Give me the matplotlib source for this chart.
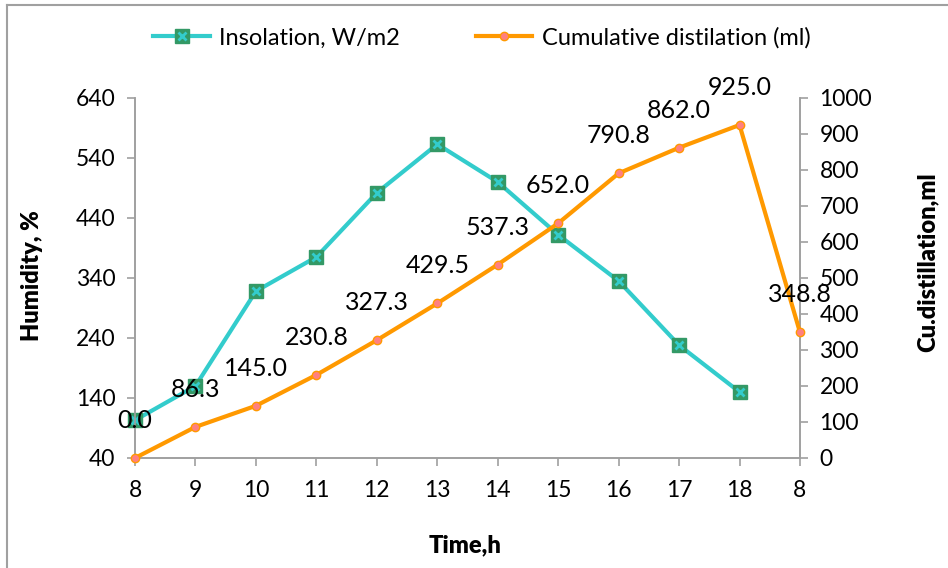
import numpy as np
import matplotlib
matplotlib.use('Agg')
import matplotlib.pyplot as plt
from matplotlib.lines import Line2D
from matplotlib.legend_handler import HandlerTuple

plt.rcParams['font.family'] = ['Lato', 'DejaVu Sans']

# Datos
hours = ['8', '9', '10', '11', '12', '13', '14', '15', '16', '17', '18', '8']
insolation = [103, 160, 318, 375, 482, 563, 500, 412, 335, 228, 150, np.nan]
cum_dist = [0.0, 86.3, 145.0, 230.8, 327.3, 429.5, 537.3, 652.0, 790.8, 862.0, 925.0, 348.8]

left_ticks = [40, 140, 240, 340, 440, 540, 640]
right_ticks = [0, 100, 200, 300, 400, 500, 600, 700, 800, 900, 1000]

TEAL = '#33CCCC'
GREEN = '#339966'
ORANGE = '#FF9900'
SALMON = '#FF8080'
AXIS = '#A0A0A0'

fig = plt.figure(figsize=(9.48, 5.68), dpi=100)
ax = fig.add_axes([135 / 948, 1 - 458 / 568, 665 / 948, 360 / 568])
ax2 = ax.twinx()

x = np.arange(len(hours))

# Insolacion (eje izquierdo)
ax.plot(x, insolation, color=TEAL, lw=3, marker='s', ms=10.5,
        mfc=GREEN, mec=GREEN, zorder=3, clip_on=False)
ax.plot(x, insolation, ls='none', marker='x', ms=5.5, mew=2,
        color=TEAL, zorder=4, clip_on=False)

# Destilacion acumulada (eje derecho)
ax2.plot(x, cum_dist, color=ORANGE, lw=3, marker='o', ms=6,
         mfc=SALMON, mec=ORANGE, mew=1, zorder=3, clip_on=False)
for xi, v in zip(x, cum_dist):
    ax2.annotate(f"{v:.1f}", (xi, v), xytext=(0, 27), textcoords='offset points',
                 ha='center', va='center', fontsize=18, color='black', zorder=5)

ax.set_xlim(0, len(hours) - 1)
ax.set_ylim(40, 640)
ax2.set_ylim(0, 1000)
ax.set_xticks(x)
ax.set_xticklabels(hours)
ax.set_yticks(left_ticks)
ax2.set_yticks(right_ticks)

for a in (ax, ax2):
    for s in a.spines.values():
        s.set_color(AXIS)
        s.set_linewidth(1.2)
    a.spines['top'].set_visible(False)
    a.tick_params(colors=AXIS, labelcolor='black', labelsize=16.5, length=6, width=1.2)
ax.tick_params(axis='y', pad=8)
ax.tick_params(axis='x', pad=10)
ax2.tick_params(axis='y', pad=8)

fig.text(32 / 948, 1 - 276 / 568, 'Humidity, %', rotation=90, ha='center', va='center',
         fontsize=17, fontweight='heavy')
fig.text(928 / 948, 1 - 262 / 568, 'Cu.distillation,ml', rotation=90, ha='center', va='center',
         fontsize=17, fontweight='heavy')
fig.text(465 / 948, 1 - 545 / 568, 'Time,h', ha='center', va='center',
         fontsize=17, fontweight='heavy')

# Leyenda
h1 = (Line2D([], [], color=TEAL, lw=3, marker='s', ms=10.5, mfc=GREEN, mec=GREEN),
      Line2D([], [], ls='none', marker='x', ms=5.5, mew=2, color=TEAL))
h2 = Line2D([], [], color=ORANGE, lw=3, marker='o', ms=6, mfc=SALMON, mec=ORANGE)
fig.legend([h1, h2], ['Insolation, W/m2', 'Cumulative distilation (ml)'],
           handler_map={tuple: HandlerTuple(ndivide=1, pad=0)},
           loc='center', bbox_to_anchor=(482 / 948, 1 - 38 / 568), ncol=2,
           frameon=False, fontsize=17, handlelength=2.4, columnspacing=3.2,
           handletextpad=0.4)

# Marco del grafico
fig.add_artist(Line2D([7 / 948, 7 / 948], [0, 1 - 5 / 568], color=AXIS, lw=1.5))
fig.add_artist(Line2D([7 / 948, 1], [1 - 5 / 568, 1 - 5 / 568], color=AXIS, lw=1.5))

fig.savefig('out.png', dpi=100)
